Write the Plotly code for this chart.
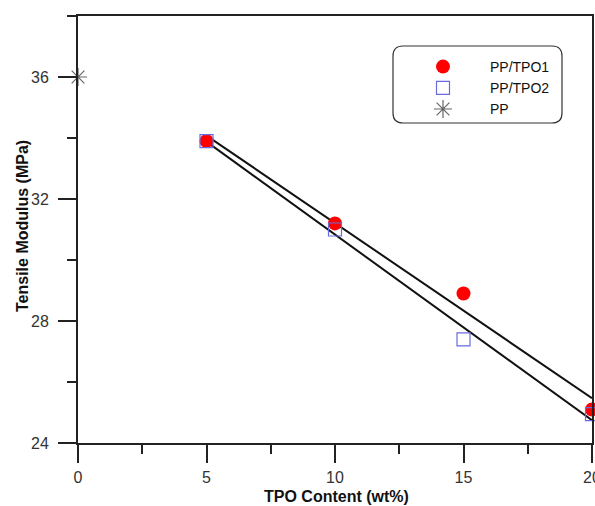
import numpy as np
import plotly.graph_objects as go

tpo_content = [5, 10, 15, 20]
pp_tpo1 = [33.9, 31.2, 28.9, 25.1]
pp_tpo2 = [33.9, 31.0, 27.4, 24.95]
pp_x = [0]
pp_y = [36.0]

fit_x = [5, 20]

def fit_line(xs, ys):
    k, b = np.polyfit(xs, ys, 1)
    return [k * x + b for x in fit_x]

font_family = "Liberation Sans, Arial, sans-serif"

fig = go.Figure()

fig.add_trace(go.Scatter(x=fit_x, y=fit_line(tpo_content, pp_tpo1), mode="lines",
                         line=dict(color="#111111", width=2), showlegend=False, hoverinfo="skip"))
fig.add_trace(go.Scatter(x=fit_x, y=fit_line(tpo_content, pp_tpo2), mode="lines",
                         line=dict(color="#111111", width=2), showlegend=False, hoverinfo="skip"))

fig.add_trace(go.Scatter(x=tpo_content, y=pp_tpo1, mode="markers", name="PP/TPO1",
                         marker=dict(symbol="circle", size=14, color="#ff0000"), cliponaxis=False))
fig.add_trace(go.Scatter(x=tpo_content, y=pp_tpo2, mode="markers", name="PP/TPO2",
                         marker=dict(symbol="square-open", size=13, color="#6a6adf",
                                     line=dict(width=1.2, color="#6a6adf")), cliponaxis=False))
fig.add_trace(go.Scatter(x=pp_x, y=pp_y, mode="markers", name="PP",
                         marker=dict(symbol="asterisk-open", size=15, color="#666666",
                                     line=dict(width=1.2, color="#666666")), cliponaxis=False))

axis_common = dict(
    showgrid=False, zeroline=False, showline=True, linecolor="#222222", linewidth=2,
    mirror=True, ticks="outside", tickcolor="#222222", tickwidth=2,
    tickfont=dict(family=font_family, size=16, color="#333333"),
    ticklabeloverflow="allow", automargin=False,
)

fig.update_xaxes(range=[0, 20], tickvals=[0, 5, 10, 15, 20], ticklen=18,
                 ticklabelstandoff=1,
                 minor=dict(dtick=2.5, ticklen=9, tickwidth=2, tickcolor="#222222", ticks="outside"),
                 **axis_common)
fig.update_yaxes(range=[24, 38], tickvals=[24, 28, 32, 36], ticklen=18,
                 ticklabelstandoff=6,
                 minor=dict(dtick=2, ticklen=9, tickwidth=2, tickcolor="#222222", ticks="outside"),
                 **axis_common)

W, H = 595, 506
L, R, T, B = 78, 3, 16, 63
pw, ph = W - L - R, H - T - B
def px(x):
    return (x - L) / pw
def py(y):
    return 1 - (y - T) / ph

# axis titles
fig.add_annotation(text="<b>Tensile Modulus (MPa)</b>", xref="paper", yref="paper",
                   x=px(22), y=py(226), xanchor="center", yanchor="middle", textangle=-90,
                   showarrow=False, font=dict(family=font_family, size=16, color="#111111"))
fig.add_annotation(text="<b>TPO Content (wt%)</b>", xref="paper", yref="paper",
                   x=px(336), y=py(506), xanchor="center", yanchor="bottom", borderpad=0,
                   showarrow=False, font=dict(family=font_family, size=16, color="#111111"))

# rounded legend frame
x0, x1, y0, y1, r = 393, 562, 46, 123, 10
path = (f"M {px(x0 + r)} {py(y0)} L {px(x1 - r)} {py(y0)} Q {px(x1)} {py(y0)} {px(x1)} {py(y0 + r)} "
        f"L {px(x1)} {py(y1 - r)} Q {px(x1)} {py(y1)} {px(x1 - r)} {py(y1)} "
        f"L {px(x0 + r)} {py(y1)} Q {px(x0)} {py(y1)} {px(x0)} {py(y1 - r)} "
        f"L {px(x0)} {py(y0 + r)} Q {px(x0)} {py(y0)} {px(x0 + r)} {py(y0)} Z")
fig.add_shape(type="path", path=path, xref="paper", yref="paper",
              line=dict(color="#333333", width=1.2), fillcolor="rgba(0,0,0,0)")

fig.update_layout(
    width=W, height=H,
    margin=dict(l=L, r=R, t=T, b=B, autoexpand=False),
    plot_bgcolor="white", paper_bgcolor="white",
    font=dict(family=font_family, size=14, color="#111111"),
    legend=dict(x=px(396), y=py(51), xanchor="left", yanchor="top",
                bgcolor="rgba(0,0,0,0)", borderwidth=0, itemwidth=84,
                font=dict(family=font_family, size=14, color="#111111"),
                tracegroupgap=0),
    showlegend=True,
)

fig.write_html("out.html")
